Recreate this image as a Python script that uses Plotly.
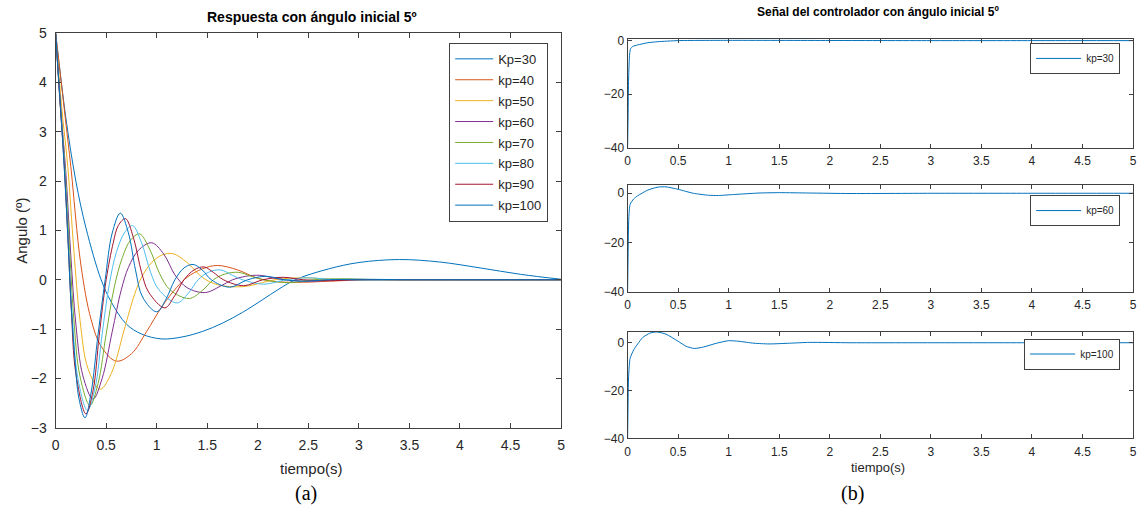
import plotly.graph_objects as go

W, H = 1142, 521

# ---------------- Data ----------------
labels_left = ["Kp=30", "kp=40", "kp=50", "kp=60", "kp=70", "kp=80", "kp=90", "kp=100"]

t_kp30 = [0, 0.1, 0.2, 0.3, 0.45, 0.55, 0.7, 0.85, 1.05, 1.25, 1.45, 1.65, 1.85, 2.05, 2.2, 2.37, 2.7, 3.0, 3.4, 3.8, 4.2, 4.6, 5.0]
y_kp30 = [5, 3.3, 2.0, 1.05, 0, -0.45, -0.9, -1.1, -1.2, -1.16, -1.05, -0.88, -0.66, -0.4, -0.2, 0, 0.22, 0.35, 0.41, 0.36, 0.24, 0.11, 0.01]

t_kp40 = [0, 0.1, 0.15, 0.25, 0.35, 0.45, 0.6, 0.75, 0.9, 1.05, 1.2, 1.3, 1.45, 1.6, 1.8, 2.0, 2.2, 2.45, 2.8, 3.2, 3.6, 4.0, 4.5, 5.0]
y_kp40 = [5, 3.2, 2.3, 0.3, -0.8, -1.35, -1.65, -1.5, -1.05, -0.55, -0.15, 0.05, 0.22, 0.29, 0.2, 0.03, -0.04, -0.05, -0.02, 0, 0, 0, 0, 0]

t_kp50 = [0, 0.06, 0.12, 0.18, 0.24, 0.32, 0.44, 0.55, 0.68, 0.78, 0.85, 0.95, 1.05, 1.16, 1.3, 1.45, 1.6, 1.85, 2.1, 2.2, 2.45, 2.8, 3.2, 3.6, 4.0, 4.5, 5.0]
y_kp50 = [5, 3.5, 2.3, 0.6, -0.8, -1.8, -2.22, -1.9, -1.0, -0.3, 0.05, 0.35, 0.5, 0.53, 0.35, 0.05, -0.1, -0.14, -0.03, 0.01, 0.04, 0, 0, 0, 0, 0, 0]

t_kp60 = [0, 0.05, 0.1, 0.15, 0.2, 0.27, 0.37, 0.46, 0.56, 0.65, 0.72, 0.82, 0.95, 1.07, 1.18, 1.3, 1.48, 1.63, 1.75, 1.88, 2.02, 2.2, 2.5, 2.8, 3.2, 3.6, 4.0, 4.5, 5.0]
y_kp60 = [5, 3.5, 2.2, 0.5, -0.9, -1.95, -2.42, -2.0, -1.05, -0.2, 0.25, 0.6, 0.75, 0.52, 0.1, -0.16, -0.26, -0.13, 0, 0.07, 0.09, 0.02, -0.03, 0, 0, 0, 0, 0, 0]

t_kp70 = [0, 0.045, 0.09, 0.14, 0.18, 0.24, 0.34, 0.42, 0.5, 0.58, 0.66, 0.74, 0.83, 0.93, 1.03, 1.13, 1.32, 1.45, 1.56, 1.68, 1.81, 1.95, 2.06, 2.3, 2.55, 2.8, 3.2, 3.6, 4.0, 4.5, 5.0]
y_kp70 = [5, 3.6, 2.35, 0.55, -0.8, -1.95, -2.55, -2.1, -1.1, -0.15, 0.45, 0.8, 0.93, 0.62, 0.12, -0.2, -0.38, -0.22, 0, 0.12, 0.15, 0.06, 0, -0.06, 0, 0.02, 0, 0, 0, 0, 0]

t_kp80 = [0, 0.042, 0.085, 0.13, 0.165, 0.22, 0.315, 0.39, 0.46, 0.53, 0.6, 0.68, 0.76, 0.85, 0.94, 1.02, 1.2, 1.31, 1.41, 1.51, 1.63, 1.75, 1.85, 2.06, 2.28, 2.5, 2.75, 3.0, 3.5, 4.0, 4.5, 5.0]
y_kp80 = [5, 3.65, 2.4, 0.6, -0.75, -2.0, -2.65, -2.2, -1.1, -0.1, 0.55, 0.95, 1.1, 0.75, 0.15, -0.2, -0.47, -0.28, 0, 0.15, 0.2, 0.09, 0, -0.09, 0, 0.04, 0, -0.01, 0, 0, 0, 0]

t_kp90 = [0, 0.04, 0.082, 0.125, 0.155, 0.2, 0.3, 0.37, 0.43, 0.5, 0.57, 0.62, 0.69, 0.77, 0.85, 0.92, 1.08, 1.17, 1.27, 1.37, 1.47, 1.56, 1.66, 1.86, 2.05, 2.25, 2.45, 2.7, 3.0, 3.5, 4.0, 4.5, 5.0]
y_kp90 = [5, 3.7, 2.42, 0.7, -0.6, -1.9, -2.72, -2.25, -1.15, 0, 0.75, 1.1, 1.24, 0.85, 0.15, -0.25, -0.57, -0.35, 0, 0.2, 0.26, 0.15, 0, -0.12, 0, 0.05, 0, -0.02, 0, 0, 0, 0, 0]

t_kp100 = [0, 0.04, 0.08, 0.12, 0.15, 0.19, 0.23, 0.29, 0.35, 0.42, 0.49, 0.56, 0.64, 0.72, 0.79, 0.86, 1.0, 1.09, 1.18, 1.27, 1.36, 1.45, 1.54, 1.72, 1.9, 2.08, 2.26, 2.44, 2.7, 3.0, 3.5, 4.0, 4.5, 5.0]
y_kp100 = [5, 3.75, 2.45, 0.9, -0.4, -1.6, -2.4, -2.8, -2.3, -1.1, 0, 0.95, 1.35, 0.95, 0.2, -0.35, -0.65, -0.4, 0, 0.24, 0.31, 0.2, 0, -0.15, 0, 0.07, 0, -0.03, 0, 0.01, 0, 0, 0, 0]

# Controller signals (right panels)
t_u30 = [0, 0.005, 0.01, 0.02, 0.03, 0.05, 0.1, 0.2, 0.3, 0.5, 1.0, 2.0, 3.0, 4.0, 5.0]
u_u30 = [-40, -28, -14, -5, -3, -2.2, -1.6, -0.8, -0.4, 0, 0.1, 0.05, 0, 0, 0]

t_u60 = [0, 0.005, 0.012, 0.025, 0.06, 0.1, 0.2, 0.3, 0.38, 0.5, 0.65, 0.8, 0.9, 1.05, 1.3, 1.5, 1.8, 2.2, 3.0, 4.0, 5.0]
u_u60 = [-40, -25, -10, -4.5, -2.3, -1.0, 1.3, 2.5, 2.6, 1.6, 0.0, -0.8, -0.9, -0.5, 0.1, 0.25, 0.1, -0.1, 0, 0, 0]

t_u100 = [0, 0.004, 0.01, 0.025, 0.06, 0.1, 0.15, 0.22, 0.29, 0.38, 0.5, 0.58, 0.66, 0.75, 0.88, 1.0, 1.1, 1.25, 1.4, 1.6, 1.8, 2.2, 3.0, 4.0, 5.0]
u_u100 = [-40, -28, -14, -6.5, -3, -0.5, 2.2, 4.0, 4.5, 3.6, 0.6, -1.5, -2.4, -1.8, -0.2, 0.85, 0.6, -0.2, -0.5, -0.2, 0.15, 0, 0, 0, 0]

x_ticks = [0, 0.5, 1, 1.5, 2, 2.5, 3, 3.5, 4, 4.5, 5]
x_ticktext = ["0", "0.5", "1", "1.5", "2", "2.5", "3", "3.5", "4", "4.5", "5"]

# ---------------- Style ----------------
colors = ['#0072BD', '#D95319', '#EDB120', '#7E2F8E', '#77AC30', '#4DBEEE', '#A2142F', '#0072BD']
AX = '#404040'
TXT = '#262626'
FONT = 'Liberation Sans'

left_series = [(t_kp30, y_kp30), (t_kp40, y_kp40), (t_kp50, y_kp50), (t_kp60, y_kp60),
               (t_kp70, y_kp70), (t_kp80, y_kp80), (t_kp90, y_kp90), (t_kp100, y_kp100)]

fig = go.Figure()
for i, ((tt, yy), name) in enumerate(zip(left_series, labels_left)):
    fig.add_trace(go.Scatter(x=tt, y=yy, mode='lines', name=name,
                             line=dict(color=colors[i], width=1, shape='spline', smoothing=1.0),
                             xaxis='x', yaxis='y', legend='legend', legendgroup=name))

right_series = [(t_u30, u_u30, 'kp=30', 'x2', 'y2', 'legend2'),
                (t_u60, u_u60, 'kp=60', 'x3', 'y3', 'legend3'),
                (t_u100, u_u100, 'kp=100', 'x4', 'y4', 'legend4')]
for tt, uu, name, xa, ya, lg in right_series:
    fig.add_trace(go.Scatter(x=tt, y=uu, mode='lines', name=name,
                             line=dict(color='#0072BD', width=1, shape='spline', smoothing=0.6),
                             xaxis=xa, yaxis=ya, legend=lg))

def px_x(p):
    return p / W

def px_y(p):
    return 1 - p / H

common = dict(showline=True, linecolor=AX, linewidth=1, mirror='allticks', ticks='inside',
              tickcolor=AX, showgrid=False, zeroline=False, color=TXT)

L_dom_x = [px_x(52), px_x(561)]
R_dom_x = [px_x(628), px_x(1137)]

layout = dict(
    width=W, height=H, margin=dict(l=0, r=0, t=0, b=0),
    paper_bgcolor='white', plot_bgcolor='white',
    font=dict(family=FONT, color=TXT),
    xaxis=dict(domain=L_dom_x, anchor='y', range=[0, 5], tickvals=x_ticks, ticktext=x_ticktext,
               ticklen=5, ticklabelstandoff=4, tickfont=dict(size=14, family=FONT), **common),
    yaxis=dict(domain=[px_y(433), px_y(26)], anchor='x', range=[-3, 5], dtick=1,
               ticklen=5, ticklabelstandoff=5, tickfont=dict(size=14, family=FONT), **common),
)
right_doms = [(32, 144, [-40, 0.6]), (183, 293, [-40, 3.2]), (334, 444, [-40, 4.6])]
for k, (top, bot, rng) in enumerate(right_doms):
    xi = k + 2
    layout[f'xaxis{xi}'] = dict(domain=R_dom_x, anchor=f'y{xi}', range=[0, 5], tickvals=x_ticks,
                                ticktext=x_ticktext, ticklen=4, ticklabelstandoff=2,
                                tickfont=dict(size=12, family=FONT), **common)
    layout[f'yaxis{xi}'] = dict(domain=[px_y(bot), px_y(top)], anchor=f'x{xi}', range=rng,
                                tickvals=[-40, -20, 0], ticklen=4, tickfont=dict(size=12, family=FONT), **common)

leg_common = dict(bgcolor='white', bordercolor=AX, borderwidth=1, xanchor='right', yanchor='top')
layout['legend'] = dict(x=px_x(548), y=px_y(36), font=dict(size=13, family=FONT, color=TXT),
                        tracegroupgap=1, itemwidth=38, **leg_common)
layout['legend2'] = dict(x=px_x(1124), y=px_y(36), font=dict(size=10, family=FONT, color=TXT), itemwidth=45, **leg_common)
layout['legend3'] = dict(x=px_x(1124), y=px_y(193), font=dict(size=10, family=FONT, color=TXT), itemwidth=45, **leg_common)
layout['legend4'] = dict(x=px_x(1124), y=px_y(341), font=dict(size=10, family=FONT, color=TXT), itemwidth=45, **leg_common)

ann = []
ann.append(dict(text='<b>Respuesta con ángulo inicial 5º</b>', x=px_x(310), y=px_y(9), xref='paper', yref='paper',
                showarrow=False, font=dict(size=14, family=FONT, color='black'), xanchor='center', yanchor='middle'))
ann.append(dict(text='<b>Señal del controlador con ángulo inicial 5º</b>', x=px_x(880), y=px_y(4), xref='paper',
                yref='paper', showarrow=False, font=dict(size=12, family=FONT, color='black'),
                xanchor='center', yanchor='middle'))
ann.append(dict(text='Angulo (º)', x=px_x(18), y=px_y(230), xref='paper', yref='paper', textangle=-90,
                showarrow=False, font=dict(size=15, family=FONT, color=TXT), xanchor='center', yanchor='middle'))
ann.append(dict(text='tiempo(s)', x=px_x(310), y=px_y(475), xref='paper', yref='paper',
                showarrow=False, font=dict(size=15, family=FONT, color=TXT), xanchor='center', yanchor='middle'))
ann.append(dict(text='tiempo(s)', x=px_x(880), y=px_y(474), xref='paper', yref='paper',
                showarrow=False, font=dict(size=13, family=FONT, color=TXT), xanchor='center', yanchor='middle'))
ann.append(dict(text='(a)', x=px_x(304), y=px_y(501), xref='paper', yref='paper',
                showarrow=False, font=dict(size=20, family='Liberation Serif', color='black'),
                xanchor='center', yanchor='middle'))
ann.append(dict(text='(b)', x=px_x(854), y=px_y(501), xref='paper', yref='paper',
                showarrow=False, font=dict(size=20, family='Liberation Serif', color='black'),
                xanchor='center', yanchor='middle'))
layout['annotations'] = ann

fig.update_layout(**layout)
fig.write_html("out.html")
